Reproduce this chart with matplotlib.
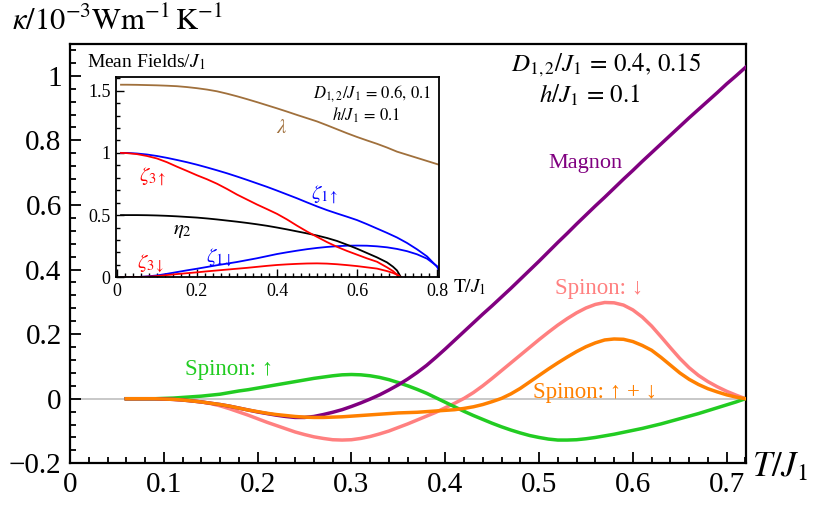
import matplotlib
matplotlib.use('Agg')
import matplotlib.pyplot as plt
from matplotlib.ticker import MultipleLocator, FuncFormatter

plt.rcParams['font.family'] = ['Liberation Serif', 'DejaVu Serif']
plt.rcParams['mathtext.fontset'] = 'stix'

# main panel: thermal conductivity vs T/J1
T = [0.06, 0.07, 0.08, 0.09, 0.10, 0.11, 0.12, 0.13, 0.14, 0.15, 0.16, 0.17,
     0.18, 0.19, 0.20, 0.21, 0.22, 0.23, 0.24, 0.25, 0.26, 0.27, 0.28, 0.29,
     0.30, 0.31, 0.32, 0.33, 0.34, 0.35, 0.36, 0.37, 0.38, 0.39, 0.40, 0.41,
     0.42, 0.43, 0.44, 0.45, 0.46, 0.47, 0.48, 0.49, 0.50, 0.51, 0.52, 0.53,
     0.54, 0.55, 0.56, 0.57, 0.58, 0.59, 0.60, 0.61, 0.62, 0.63, 0.64, 0.65,
     0.66, 0.67, 0.68, 0.69, 0.70, 0.71, 0.72]
magnon = [0, 0, 0, 0, -0.001, -0.002, -0.004, -0.007, -0.010, -0.014, -0.018, -0.023,
          -0.029, -0.035, -0.041, -0.046, -0.051, -0.055, -0.058, -0.058, -0.055, -0.049, -0.042, -0.034,
          -0.024, -0.013, -0.001, 0.012, 0.027, 0.043, 0.061, 0.081, 0.103, 0.128, 0.154, 0.181,
          0.208, 0.235, 0.262, 0.288, 0.315, 0.342, 0.370, 0.398, 0.426, 0.455, 0.484, 0.512,
          0.541, 0.569, 0.597, 0.624, 0.652, 0.680, 0.707, 0.735, 0.762, 0.789, 0.816, 0.843,
          0.870, 0.896, 0.922, 0.948, 0.975, 1.000, 1.026]
spin_up = [0, 0, 0, 0, 0.001, 0.002, 0.004, 0.006, 0.008, 0.011, 0.014, 0.019,
           0.024, 0.028, 0.033, 0.038, 0.043, 0.048, 0.053, 0.058, 0.063, 0.067, 0.071, 0.074,
           0.075, 0.074, 0.071, 0.066, 0.059, 0.050, 0.040, 0.029, 0.017, 0.003, -0.011, -0.025,
           -0.039, -0.052, -0.064, -0.076, -0.087, -0.097, -0.106, -0.114, -0.120, -0.125, -0.128, -0.128,
           -0.127, -0.124, -0.120, -0.115, -0.110, -0.104, -0.098, -0.092, -0.085, -0.078, -0.070, -0.062,
           -0.054, -0.046, -0.037, -0.028, -0.019, -0.010, 0]
spin_dn = [0, 0, 0, 0, -0.001, -0.002, -0.003, -0.006, -0.010, -0.015, -0.022, -0.031,
           -0.041, -0.051, -0.062, -0.073, -0.083, -0.093, -0.103, -0.111, -0.118, -0.123, -0.127, -0.128,
           -0.127, -0.123, -0.117, -0.109, -0.100, -0.089, -0.078, -0.066, -0.054, -0.042, -0.028, -0.014,
           0.001, 0.019, 0.040, 0.063, 0.087, 0.111, 0.135, 0.159, 0.183, 0.206, 0.228, 0.248,
           0.266, 0.281, 0.292, 0.298, 0.297, 0.290, 0.275, 0.253, 0.225, 0.192, 0.158, 0.125,
           0.096, 0.072, 0.053, 0.037, 0.023, 0.011, 0]
spin_sum = [0, 0, 0, 0, -0.001, -0.002, -0.004, -0.007, -0.010, -0.014, -0.018, -0.023,
            -0.029, -0.035, -0.040, -0.045, -0.049, -0.052, -0.055, -0.057, -0.058, -0.058, -0.057, -0.056,
            -0.054, -0.052, -0.050, -0.048, -0.046, -0.044, -0.043, -0.042, -0.040, -0.038, -0.036, -0.034,
            -0.030, -0.025, -0.018, -0.009, 0.001, 0.015, 0.032, 0.052, 0.072, 0.092, 0.111, 0.129,
            0.146, 0.161, 0.173, 0.182, 0.185, 0.184, 0.177, 0.165, 0.150, 0.128, 0.104, 0.080,
            0.060, 0.044, 0.031, 0.021, 0.012, 0.005, 0]

# inset: mean fields vs T/J1
Ti = [0.01, 0.025, 0.05, 0.075, 0.10, 0.125, 0.15, 0.175, 0.20, 0.225, 0.25, 0.275,
      0.30, 0.325, 0.35, 0.375, 0.40, 0.425, 0.45, 0.475, 0.50, 0.525, 0.55, 0.575,
      0.60, 0.625, 0.65, 0.675, 0.70, 0.725, 0.75, 0.775, 0.80, 0.805]
lam = [1.548, 1.548, 1.547, 1.545, 1.543, 1.540, 1.536, 1.529, 1.520, 1.509, 1.495, 1.476,
       1.455, 1.432, 1.408, 1.383, 1.358, 1.332, 1.305, 1.279, 1.253, 1.222, 1.190, 1.158,
       1.128, 1.100, 1.073, 1.043, 1.010, 0.985, 0.960, 0.935, 0.910, 0.905]
z1_up = [1.0, 1.0, 0.995, 0.987, 0.975, 0.960, 0.943, 0.925, 0.905, 0.883, 0.86, 0.836,
         0.81, 0.783, 0.755, 0.727, 0.697, 0.666, 0.635, 0.602, 0.57, 0.540, 0.513, 0.487,
         0.46, 0.427, 0.392, 0.357, 0.32, 0.276, 0.225, 0.168, 0.085, 0.058]
z1_dn = [0, 0, 0.002, 0.007, 0.015, 0.028, 0.042, 0.056, 0.069, 0.083, 0.097, 0.110,
         0.123, 0.138, 0.153, 0.170, 0.187, 0.201, 0.214, 0.226, 0.236, 0.244, 0.250, 0.254,
         0.255, 0.254, 0.249, 0.241, 0.228, 0.210, 0.185, 0.150, 0.090, 0.058]
Ts = [0.01, 0.025, 0.05, 0.075, 0.10, 0.125, 0.15, 0.175, 0.20, 0.225, 0.25, 0.275,
      0.30, 0.325, 0.35, 0.375, 0.40, 0.425, 0.45, 0.475, 0.50, 0.525, 0.55, 0.575,
      0.60, 0.625, 0.65, 0.675, 0.69, 0.70, 0.71]
z3_up = [1.0, 0.998, 0.99, 0.975, 0.955, 0.925, 0.889, 0.855, 0.82, 0.788, 0.752, 0.71,
         0.665, 0.625, 0.585, 0.548, 0.51, 0.465, 0.415, 0.368, 0.325, 0.283, 0.245, 0.212,
         0.182, 0.152, 0.125, 0.08, 0.05, 0.022, 0.0]
eta2 = [0.5, 0.5, 0.5, 0.499, 0.497, 0.494, 0.49, 0.485, 0.48, 0.473, 0.465, 0.456,
        0.447, 0.437, 0.426, 0.414, 0.400, 0.385, 0.369, 0.353, 0.336, 0.316, 0.292, 0.262,
        0.230, 0.195, 0.160, 0.12, 0.085, 0.055, 0.0]
z3_dn = [0, 0, 0.002, 0.005, 0.01, 0.018, 0.026, 0.033, 0.04, 0.048, 0.055, 0.062,
         0.069, 0.076, 0.084, 0.092, 0.099, 0.104, 0.108, 0.111, 0.112, 0.11, 0.105, 0.098,
         0.09, 0.08, 0.07, 0.05, 0.035, 0.02, 0.0]

c_mag = '#800080'
c_up = '#22cc22'
c_dn = '#ff8080'
c_sum = '#ff8000'
c_lam = '#a0703c'


def fmt(v, p):
    if abs(v) < 1e-9:
        return '0'
    return ('%g' % round(v, 2)).replace('-', '\u2212')


fig = plt.figure(figsize=(8.14, 5.11), dpi=100)
ax = fig.add_axes([70/814, 1-463.3/511, (746-70)/814, (463.3-44.5)/511])

ax.axhline(0, color='#c4c4c4', lw=1.3, zorder=1)
ax.plot(T, spin_dn, color=c_dn, lw=2.5, zorder=2)
ax.plot(T, spin_up, color=c_up, lw=2.5, zorder=3)
ax.plot(T, magnon, color=c_mag, lw=2.5, zorder=3)
ax.plot(T, spin_sum, color=c_sum, lw=2.5, zorder=4)

ax.set_xlim(0, 0.7206)
ax.set_ylim(-0.2, 1.097)
ax.xaxis.set_major_locator(MultipleLocator(0.1))
ax.xaxis.set_minor_locator(MultipleLocator(0.02))
ax.yaxis.set_major_locator(MultipleLocator(0.2))
ax.yaxis.set_minor_locator(MultipleLocator(0.04))
ax.xaxis.set_major_formatter(FuncFormatter(fmt))
ax.yaxis.set_major_formatter(FuncFormatter(fmt))
ax.tick_params(which='both', direction='in', top=False, right=False, labelsize=21, width=1.3)
ax.tick_params(which='major', length=8, pad=6)
ax.tick_params(which='minor', length=4)
for s in ax.spines.values():
    s.set_linewidth(1.6)

ax.text(0.549, 0.729, 'Magnon', color=c_mag, fontsize=16, ha='center', va='center')
ax.text(0.1695, 0.092, 'Spinon: \u2191', color=c_up, fontsize=16.5, ha='center', va='center')
ax.text(0.5645, 0.340, 'Spinon: \u2193', color=c_dn, fontsize=16.5, ha='center', va='center')
ax.text(0.560, 0.018, 'Spinon: \u2191 + \u2193', color=c_sum, fontsize=16.5, ha='center', va='center')
ax.text(0.571, 1.033, r'$D_{1,2}/J_1\,=\,0.4,\,0.15$', fontsize=18, ha='center', va='center')
ax.text(0.554, 0.94, r'$h/J_1\,=\,0.1$', fontsize=18, ha='center', va='center')

fig.text(12/814, 1-22/511, r'$\kappa/10^{-3}\mathrm{Wm}^{-1}\,\mathrm{K}^{-1}$', fontsize=22, va='center', ha='left')
fig.text(752/814, 1-468/511, r'$T/J_1$', fontsize=25, va='center', ha='left')

# inset
ins = fig.add_axes([116/814, 1-277.3/511, (439-116)/814, (277.3-77)/511])
ins.plot(Ti, lam, color=c_lam, lw=1.3)
ins.plot(Ti, z1_up, color='#0000ff', lw=1.3)
ins.plot(Ti, z1_dn, color='#0000ff', lw=1.3)
ins.plot(Ts, eta2, color='black', lw=1.3)
ins.plot(Ts, z3_up, color='#ff0000', lw=1.3)
ins.plot(Ts, z3_dn, color='#ff0000', lw=1.3)
ins.set_xlim(-0.0025, 0.805)
ins.set_ylim(0, 1.61)
ins.xaxis.set_major_locator(MultipleLocator(0.2))
ins.xaxis.set_minor_locator(MultipleLocator(0.02))
ins.yaxis.set_major_locator(MultipleLocator(0.5))
ins.yaxis.set_minor_locator(MultipleLocator(0.1))
ins.xaxis.set_major_formatter(FuncFormatter(fmt))
ins.yaxis.set_major_formatter(FuncFormatter(fmt))
ins.tick_params(which='both', direction='in', top=False, right=False, labelsize=13, width=1.0)
ins.tick_params(which='major', length=6, pad=4)
ins.tick_params(which='minor', length=3)
for s in ins.spines.values():
    s.set_linewidth(1.3)

ins.text(0.411, 1.196, r'$\lambda$', color=c_lam, fontsize=15, ha='center', va='center')
ins.text(0.089, 0.809, r'$\zeta_{3\uparrow}$', color='#ff0000', fontsize=15, ha='center', va='center')
ins.text(0.52, 0.66, r'$\zeta_{1\uparrow}$', color='#0000ff', fontsize=15, ha='center', va='center')
ins.text(0.164, 0.374, r'$\eta_2$', color='black', fontsize=15, ha='center', va='center')
ins.text(0.2575, 0.153, r'$\zeta_{1\downarrow}$', color='#0000ff', fontsize=15, ha='center', va='center')
ins.text(0.085, 0.107, r'$\zeta_{3\downarrow}$', color='#ff0000', fontsize=15, ha='center', va='center')
ins.text(0.787, 1.48, r'$D_{1,2}/J_1\,=\,0.6,\,0.1$', fontsize=12, ha='right', va='center')
ins.text(0.622, 1.30, r'$h/J_1\,=\,0.1$', fontsize=12, ha='center', va='center')
ins.text(0.84, -0.078, r'$\mathrm{T}/J_1$', fontsize=14, ha='left', va='center')
fig.text(87/814, 1-62/511, r'Mean Fields/$J_1$', fontsize=14, va='center', ha='left')

fig.savefig('out.png', dpi=100)
